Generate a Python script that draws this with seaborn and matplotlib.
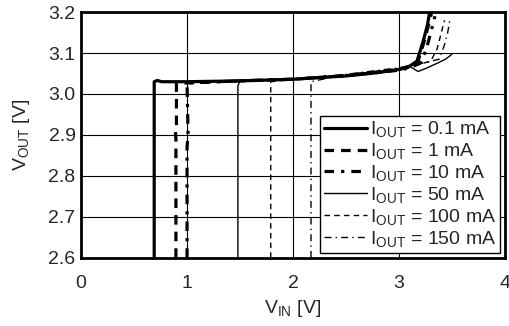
import seaborn as sns
import matplotlib.pyplot as plt
import pandas as pd

# data (VIN [V] -> VOUT [V])
labels = ["0.1 mA", "1 mA", "10 mA", "50 mA", "100 mA", "150 mA"]

vin_01 = [0.69, 0.69, 0.72, 0.76, 1.0, 1.5, 2.0, 2.5, 2.8, 3.0, 3.1, 3.17, 3.23, 3.27, 3.29]
vout_01 = [2.6, 3.03, 3.033, 3.030, 3.030, 3.032, 3.036, 3.044, 3.052, 3.060, 3.068, 3.08, 3.13, 3.17, 3.2]

vin_1 = [0.895, 0.895, 0.89, 0.9, 0.9, 1.5, 2.0, 2.5, 3.0, 3.1, 3.18, 3.24, 3.28, 3.31]
vout_1 = [2.6, 2.89, 2.91, 2.92, 3.026, 3.032, 3.036, 3.045, 3.060, 3.066, 3.08, 3.13, 3.17, 3.2]

vin_10 = [1.0, 1.0, 1.01, 1.0, 1.5, 2.0, 2.5, 3.0, 3.1, 3.2, 3.26, 3.31, 3.34]
vout_10 = [2.6, 2.87, 2.9, 3.027, 3.032, 3.036, 3.045, 3.058, 3.064, 3.075, 3.11, 3.16, 3.19]

vin_50 = [1.48, 1.48, 1.5, 2.0, 2.5, 3.0, 3.1, 3.18, 3.25, 3.36, 3.44, 3.5]
vout_50 = [2.6, 3.02, 3.031, 3.035, 3.045, 3.060, 3.068, 3.055, 3.062, 3.075, 3.085, 3.097]

vin_100 = [1.79, 1.79, 2.0, 2.5, 3.0, 3.15, 3.3, 3.36, 3.4, 3.43]
vout_100 = [2.6, 3.03, 3.036, 3.047, 3.062, 3.07, 3.08, 3.11, 3.15, 3.18]

vin_150 = [2.17, 2.17, 2.5, 3.0, 3.2, 3.38, 3.43, 3.46, 3.48]
vout_150 = [2.6, 3.03, 3.048, 3.064, 3.074, 3.085, 3.12, 3.15, 3.18]

series = [
    (vin_01, vout_01, "-", 2.3),
    (vin_1, vout_1, (0, (3, 2.2)), 2.3),
    (vin_10, vout_10, (0, (3, 2.2, 1, 2.2)), 2.3),
    (vin_50, vout_50, "-", 1.0),
    (vin_100, vout_100, (0, (4, 3)), 1.0),
    (vin_150, vout_150, (0, (5, 3, 1, 3)), 1.0),
]

sns.set_style("white")
plt.rcParams["font.family"] = ["Liberation Sans", "DejaVu Sans"]
plt.rcParams["mathtext.fontset"] = "custom"
plt.rcParams["mathtext.rm"] = "Liberation Sans"
plt.rcParams["mathtext.it"] = "Liberation Sans"

fig = plt.figure(figsize=(5.10, 3.26), dpi=100)
ax = fig.add_axes([0.159, 0.209, 0.831, 0.754])

for (x, y, ls, lw), lab in zip(series, labels):
    df = pd.DataFrame({"vin": x, "vout": y})
    sns.lineplot(data=df, x="vin", y="vout", sort=False, estimator=None,
                 color="black", linewidth=lw, linestyle=ls,
                 label=r"I$_{\mathrm{OUT}}$ = " + lab, ax=ax)

ax.set_xlim(0, 4)
ax.set_ylim(2.6, 3.2)
ax.set_xticks([0, 1, 2, 3, 4])
ax.set_yticks([2.6, 2.7, 2.8, 2.9, 3.0, 3.1, 3.2])
ax.set_yticklabels(["2.6", "2.7", "2.8", "2.9", "3.0", "3.1", "3.2"])
ax.grid(True, color="black", linewidth=0.8)
ax.tick_params(labelsize=14, length=0)
ax.tick_params(axis="x", pad=12)
ax.tick_params(axis="y", pad=4)
for s in ax.spines.values():
    s.set_color("black")
    s.set_linewidth(2)

ax.set_xlabel(r"V$_{\mathrm{IN}}$ [V]", fontsize=14, labelpad=5)
ax.set_ylabel(r"V$_{\mathrm{OUT}}$ [V]", fontsize=14, labelpad=12)

leg = ax.legend(loc="lower right", fontsize=14, frameon=True, fancybox=False,
                handlelength=2.2, handletextpad=0.15, labelspacing=0.1,
                borderpad=0.2, borderaxespad=0.25, framealpha=1)
leg.get_frame().set_edgecolor("black")
leg.get_frame().set_linewidth(1.0)

fig.savefig("out.png", dpi=100)
